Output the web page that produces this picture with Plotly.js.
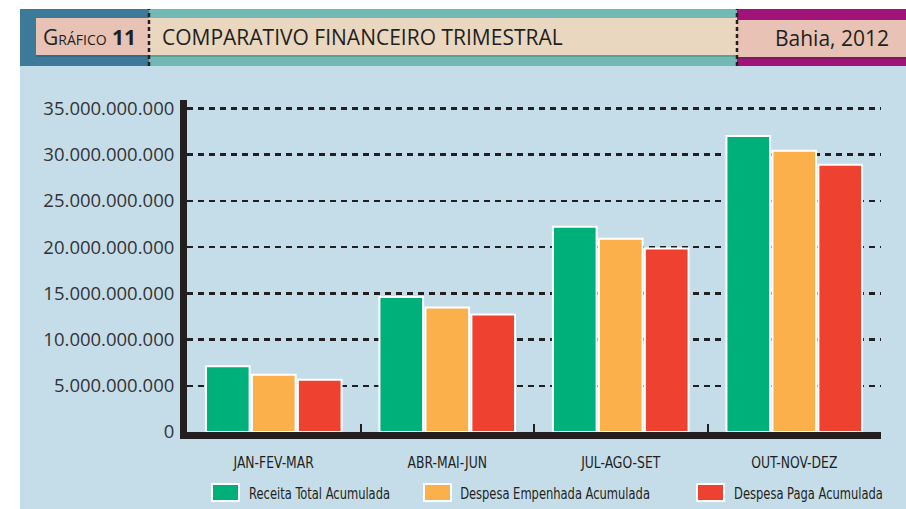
<!DOCTYPE html>
<html>
<head>
<meta charset="utf-8">
<script src="https://cdn.plot.ly/plotly-3.0.1.min.js"></script>
<style>
html,body{margin:0;padding:0;background:#fff;}
#chart{width:906px;height:509px;}
</style>
</head>
<body>
<div id="chart"></div>
<script>
// ---- data ----
var categories = ['JAN-FEV-MAR', 'ABR-MAI-JUN', 'JUL-AGO-SET', 'OUT-NOV-DEZ'];
var seriesNames = ['Receita Total Acumulada', 'Despesa Empenhada Acumulada', 'Despesa Paga Acumulada'];
var receita = [7.1e9, 14.6e9, 22.2e9, 32.0e9];
var empenhada = [6.2e9, 13.45e9, 20.9e9, 30.4e9];
var paga = [5.65e9, 12.7e9, 19.85e9, 28.9e9];
var yTickVals = [0, 5e9, 10e9, 15e9, 20e9, 25e9, 30e9, 35e9];
var yTickText = ['0', '5.000.000.000', '10.000.000.000', '15.000.000.000', '20.000.000.000', '25.000.000.000', '30.000.000.000', '35.000.000.000'];

var colors = ['#00b07a', '#fbb04c', '#ef4130'];
var dark = '#231f20';
var condensed = '"Liberation Sans Narrow", "DejaVu Sans Condensed", "Arial Narrow", sans-serif';
var mainFont = '"Open Sans", "Liberation Sans", sans-serif';

// plot area in pixels
var W = 906, H = 509;
var L = 187, R = 25, T = 100, B = 77;
var pw = W - L - R, ph = H - T - B;
function X(px) { return (px - L) / pw; }
function Y(py) { return (H - B - py) / ph; }

function rect(x0, y0, x1, y1, fill) {
  return {type: 'rect', xref: 'paper', yref: 'paper', x0: X(x0), x1: X(x1), y0: Y(y1), y1: Y(y0),
    fillcolor: fill, line: {width: 0}, layer: 'below'};
}

var shapes = [
  rect(20, 66, 906, 509, '#c5dde9'),
  rect(20, 9, 149, 66, '#3d7a9a'),
  rect(149, 9, 737, 66, '#72b8b4'),
  rect(737, 9, 906, 66, '#a0147a'),
  rect(36, 20, 149, 57, '#356a85'),
  rect(149, 20, 737, 57, '#5e9e9a'),
  rect(737, 22, 906, 59, '#7c1a60'),
  rect(36, 18, 149, 55, '#e8c2b4'),
  rect(149, 18, 737, 55, '#e9d7c0'),
  rect(737, 20, 906, 57, '#e8c2b4'),
  {type: 'line', xref: 'paper', yref: 'paper', x0: X(149), x1: X(149), y0: Y(66), y1: Y(9),
    line: {color: dark, width: 2.5, dash: '4px,3px'}},
  {type: 'line', xref: 'paper', yref: 'paper', x0: X(737), x1: X(737), y0: Y(66), y1: Y(9),
    line: {color: dark, width: 2.5, dash: '4px,3px'}}
];

// custom legend swatches
var legX = [211, 423, 696];
var legTextX = [247, 458, 732];
for (var i = 0; i < 3; i++) {
  shapes.push({type: 'rect', xref: 'paper', yref: 'paper', x0: X(legX[i] + 1), x1: X(legX[i] + 28),
    y0: Y(501), y1: Y(484), fillcolor: colors[i], line: {color: '#ffffff', width: 2}, layer: 'above'});
}

var annotations = [
  {xref: 'paper', yref: 'paper', x: X(41), y: Y(37), xanchor: 'left', yanchor: 'middle', showarrow: false,
    text: 'G<span style="font-size:14px">RÁFICO</span> <b>11</b>',
    font: {family: mainFont, size: 21, color: dark}},
  {xref: 'paper', yref: 'paper', x: X(160), y: Y(37), xanchor: 'left', yanchor: 'middle', showarrow: false,
    text: 'COMPARATIVO FINANCEIRO TRIMESTRAL', font: {family: mainFont, size: 21, color: dark}},
  {xref: 'paper', yref: 'paper', x: X(891), y: Y(38), xanchor: 'right', yanchor: 'middle', showarrow: false,
    text: 'Bahia, 2012', font: {family: mainFont, size: 21, color: dark}}
];
for (var j = 0; j < 3; j++) {
  annotations.push({xref: 'paper', yref: 'paper', x: X(legTextX[j]), y: Y(493), xanchor: 'left', yanchor: 'middle',
    showarrow: false, text: seriesNames[j], font: {family: condensed, size: 16, color: dark}});
}

var series = [receita, empenhada, paga];
var traces = series.map(function (vals, k) {
  return {type: 'bar', name: seriesNames[k], x: categories, y: vals,
    marker: {color: colors[k], line: {color: '#ffffff', width: 2}}, hoverinfo: 'none'};
});

var layout = {
  width: W, height: H,
  margin: {l: L, r: R, t: T, b: B, pad: 0},
  paper_bgcolor: '#ffffff', plot_bgcolor: 'rgba(0,0,0,0)',
  showlegend: false,
  barmode: 'group', bargap: 0.205, bargroupgap: 0.05,
  xaxis: {
    showline: true, linewidth: 7, linecolor: dark,
    ticks: 'inside', tickson: 'boundaries', ticklen: 8, tickwidth: 2, tickcolor: dark,
    showgrid: false, zeroline: false, fixedrange: true,
    ticklabelstandoff: 10,
    tickfont: {family: condensed, size: 16, color: dark}
  },
  yaxis: {
    range: [0, 35.9e9],
    tickvals: yTickVals, ticktext: yTickText,
    showline: true, linewidth: 7, linecolor: dark,
    showgrid: true, gridcolor: dark, gridwidth: 2.5, griddash: '6px,5px',
    zeroline: false, ticks: '', fixedrange: true,
    ticklabelstandoff: 2,
    tickfont: {family: mainFont, size: 18.5, color: '#333333'}
  },
  shapes: shapes,
  annotations: annotations
};

function narrow(el, k, anchor) {
  var bb = el.getBBox();
  var cx = anchor === 'left' ? bb.x : bb.x + bb.width / 2;
  var prev = el.getAttribute('transform') || '';
  el.setAttribute('transform', prev + ' translate(' + cx + ',0) scale(' + k + ',1) translate(' + (-cx) + ',0)');
}

Plotly.newPlot('chart', traces, layout, {displayModeBar: false, staticPlot: true}).then(function (gd) {
  // narrow the texts to match the condensed face of the original
  gd.querySelectorAll('.annotation-text').forEach(function (t) {
    if (seriesNames.indexOf(t.textContent) >= 0) narrow(t, 0.8, 'left');
  });
  gd.querySelectorAll('.xtick text').forEach(function (t) { narrow(t, 0.86, 'middle'); });
});
</script>
</body>
</html>
